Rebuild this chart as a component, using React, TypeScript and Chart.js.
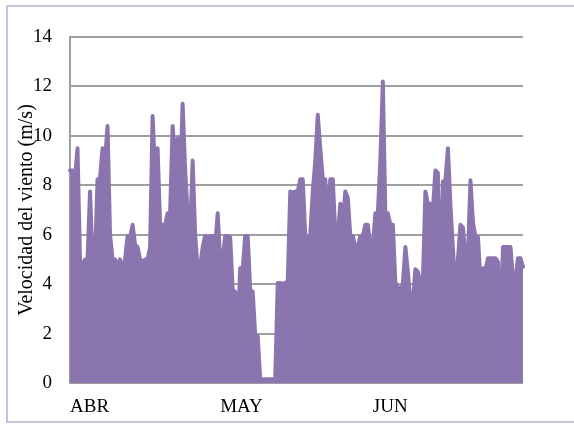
import React, { useEffect, useRef } from 'react';
import { Chart, registerables } from 'chart.js';

Chart.register(...registerables);

// Month tick labels (one per month, shown at the first sample of the month)
const monthNames = ['ABR', 'MAY', 'JUN'];

// Wind speed samples (m/s)
const abrValues = [
  8.6, 8.6, 8.3, 9.5, 5.0, 4.7, 5.0, 5.0, 7.75, 5.0,
  5.0, 8.24, 8.3, 9.5, 9.0, 10.4, 6.0, 5.0, 5.0, 4.7,
  5.0, 4.6, 5.0, 5.95, 5.9, 6.4, 5.6, 5.5, 5.0, 4.9,
  5.0, 5.0, 5.5, 10.8, 8.5, 9.5, 6.4, 6.4, 6.4, 6.87,
  6.87, 10.4, 9.0, 9.9, 8.0, 11.3, 8.65, 6.87, 6.0, 9.0,
  6.0, 4.65, 4.65, 5.5, 5.95, 5.9, 5.95, 5.95, 5.5, 6.87,
];

const mayValues = [
  5.0, 5.0, 5.95, 5.95, 5.9, 3.77, 3.7, 1.95, 4.65, 4.6,
  5.95, 5.95, 3.77, 3.7, 1.95, 1.9, 0.15, 0.15, 0.15, 0.15,
  0.15, 0.15, 0.15, 4.05, 4.05, 4.0, 4.05, 4.1, 7.75, 7.7,
  7.75, 7.75, 8.24, 8.24, 5.95, 5.95, 6.0, 7.75, 9.0, 10.85,
  9.5, 8.24, 8.24, 6.5, 8.24, 8.24, 6.0, 6.0, 7.25, 6.5,
  7.75, 7.5, 5.95, 5.95, 5.5, 5.5, 5.95, 5.95, 6.4, 6.4,
  5.5,
];

const junValues = [
  5.5, 6.87, 6.87, 9.0, 12.2, 6.87, 6.87, 6.4, 6.4, 4.05,
  3.9, 3.77, 4.0, 5.5, 4.5, 3.25, 3.3, 4.6, 4.5, 4.05,
  4.1, 7.75, 7.25, 7.25, 7.0, 8.6, 8.5, 3.24, 8.15, 8.2,
  9.5, 7.2, 5.45, 3.76, 5.0, 6.4, 6.3, 5.1, 5.1, 8.2,
  6.5, 5.9, 5.9, 4.17, 4.64, 4.6, 5.05, 5.05, 5.05, 5.05,
  4.9, 2.4, 5.5, 5.5, 5.5, 5.5, 4.2, 4.17, 5.05, 5.05,
  4.7,
];

const yTickValues = [0, 2, 4, 6, 8, 10, 12, 14];

const PURPLE = 'rgb(139,117,175)';
const GRID = '#9f9f9f';
const FAMILY = '"Liberation Serif", "Times New Roman", serif';
const TICK_FONT = { family: FAMILY, size: 19 };
const TITLE_FONT = { family: FAMILY, size: 20 };

export default function App() {
  const canvasRef = useRef<HTMLCanvasElement | null>(null);

  useEffect(() => {
    const months = [abrValues, mayValues, junValues];
    const labels: string[] = [];
    const values: number[] = [];
    months.forEach((arr, m) =>
      arr.forEach((v, k) => {
        labels.push(k === 0 ? monthNames[m] : '');
        values.push(v);
      })
    );

    const chart = new Chart(canvasRef.current as HTMLCanvasElement, {
      type: 'line',
      data: {
        labels,
        datasets: [
          {
            data: values,
            borderColor: PURPLE,
            backgroundColor: PURPLE,
            fill: 'origin',
            borderWidth: 4,
            pointRadius: 0,
            tension: 0,
            borderJoinStyle: 'round',
            borderCapStyle: 'round',
          },
        ],
      },
      options: {
        responsive: false,
        animation: false,
        events: [],
        layout: { padding: { left: 0, top: 37, right: 51, bottom: 0 } },
        plugins: { legend: { display: false }, tooltip: { enabled: false } },
        scales: {
          x: {
            grid: { display: false, drawTicks: false },
            border: { display: false },
            ticks: {
              autoSkip: false,
              maxRotation: 0,
              minRotation: 0,
              align: 'start',
              padding: 13,
              font: TICK_FONT,
              color: '#000',
            },
            afterFit: (s: any) => {
              s.height = 41;
            },
          },
          y: {
            min: 0,
            max: 14,
            afterBuildTicks: (s: any) => {
              s.ticks = yTickValues.map((v) => ({ value: v }));
            },
            ticks: { padding: 18, font: TICK_FONT, color: '#000' },
            grid: { color: GRID, lineWidth: 2, drawTicks: false },
            border: { display: true, color: GRID, width: 2 },
            title: {
              display: true,
              text: 'Velocidad del viento (m/s)',
              font: TITLE_FONT,
              color: '#000',
              padding: { top: 15, bottom: 0 },
            },
            afterFit: (s: any) => {
              s.width = 70;
            },
          },
        },
      } as any,
    });

    return () => chart.destroy();
  }, []);

  return (
    <div
      style={{
        position: 'fixed',
        left: 0,
        top: 0,
        width: 574,
        height: 424,
        background: '#fff',
        overflow: 'hidden',
      }}
    >
      <div
        style={{
          position: 'absolute',
          left: 6,
          top: 5,
          width: 600,
          height: 418,
          boxSizing: 'border-box',
          border: '2px solid #c9bfdf',
        }}
      />
      <canvas
        ref={canvasRef}
        width={574}
        height={424}
        style={{ position: 'absolute', left: 0, top: 0, width: 574, height: 424 }}
      />
    </div>
  );
}
